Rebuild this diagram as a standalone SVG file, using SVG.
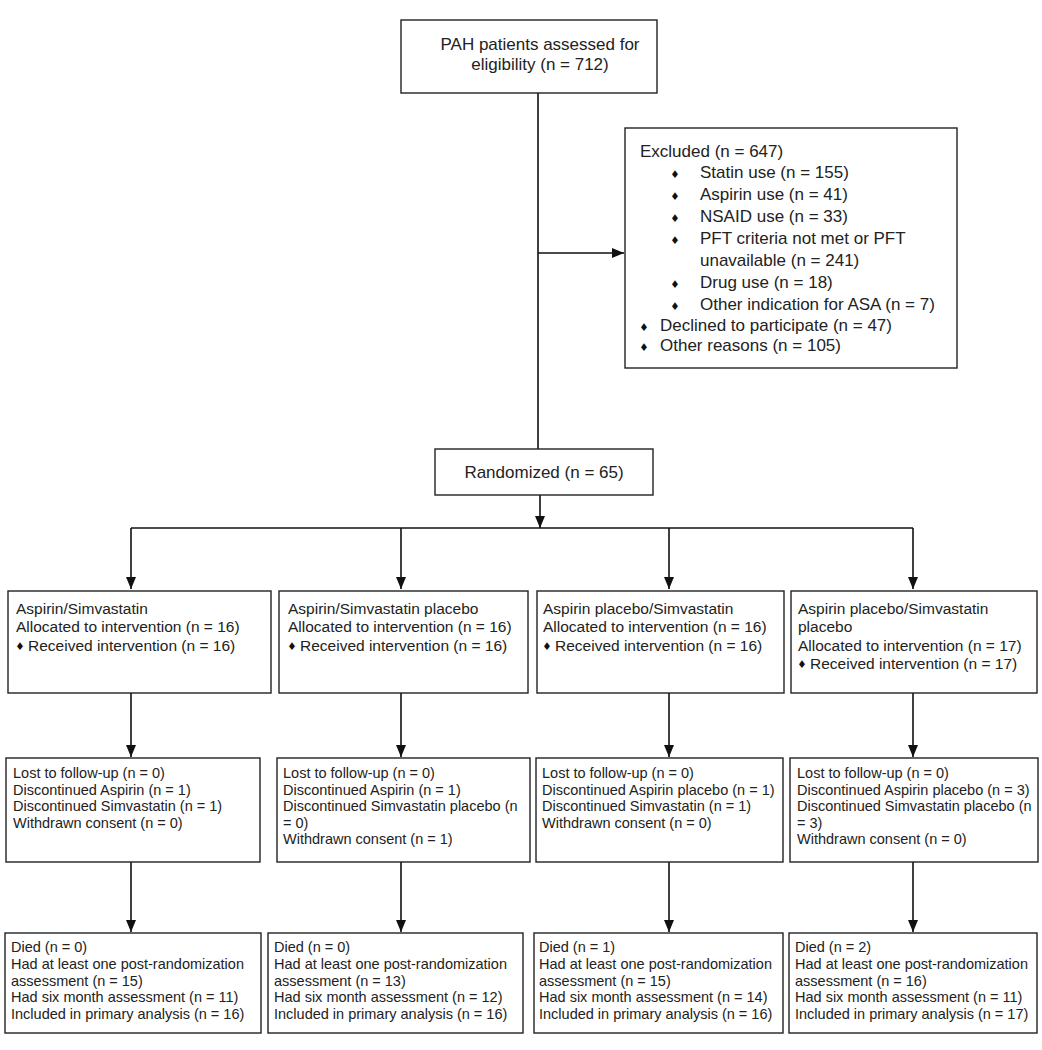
<svg xmlns="http://www.w3.org/2000/svg" width="1042" height="1050" viewBox="0 0 1042 1050">
<defs>
<style>
.box{fill:#fff;stroke:#222;stroke-width:1.4}
.ln{fill:none;stroke:#111;stroke-width:1.6}
text{font-family:"Liberation Sans",Arial,sans-serif;fill:#222}
.t17{font-size:17px}
.t155{font-size:15.5px}
.t145{font-size:14.5px}
.b{font-family:"DejaVu Sans",sans-serif;font-size:10.5px;text-anchor:middle;fill:#111}
</style>
<marker id="ah" viewBox="0 0 12 10" refX="12" refY="5" markerWidth="12" markerHeight="10" markerUnits="userSpaceOnUse" orient="auto">
<path d="M0,0 L12,5 L0,10 z" fill="#111"/>
</marker>
</defs>
<rect width="1042" height="1050" fill="#fff"/>

<g id="connectors">
<line class="ln" x1="538" y1="93" x2="538" y2="449"/>
<line class="ln" x1="538" y1="253" x2="624" y2="253" marker-end="url(#ah)"/>
<line class="ln" x1="540" y1="495" x2="540" y2="528" marker-end="url(#ah)"/>
<line class="ln" x1="131" y1="528" x2="913" y2="528"/>
<line class="ln" x1="131" y1="528" x2="131" y2="589" marker-end="url(#ah)"/>
<line class="ln" x1="401" y1="528" x2="401" y2="589" marker-end="url(#ah)"/>
<line class="ln" x1="669" y1="528" x2="669" y2="589" marker-end="url(#ah)"/>
<line class="ln" x1="913" y1="528" x2="913" y2="589" marker-end="url(#ah)"/>
<line class="ln" x1="131" y1="693" x2="131" y2="757" marker-end="url(#ah)"/>
<line class="ln" x1="401" y1="693" x2="401" y2="757" marker-end="url(#ah)"/>
<line class="ln" x1="669" y1="693" x2="669" y2="757" marker-end="url(#ah)"/>
<line class="ln" x1="913" y1="693" x2="913" y2="757" marker-end="url(#ah)"/>
<line class="ln" x1="131" y1="862" x2="131" y2="932" marker-end="url(#ah)"/>
<line class="ln" x1="401" y1="862" x2="401" y2="932" marker-end="url(#ah)"/>
<line class="ln" x1="669" y1="862" x2="669" y2="932" marker-end="url(#ah)"/>
<line class="ln" x1="913" y1="862" x2="913" y2="932" marker-end="url(#ah)"/>
</g>

<g id="assessed">
<rect class="box" x="401" y="20" width="256" height="73"/>
<text class="t17" x="540" y="50" text-anchor="middle">PAH patients assessed for</text>
<text class="t17" x="540" y="70" text-anchor="middle">eligibility (n = 712)</text>
</g>

<g id="excluded">
<rect class="box" x="625" y="128" width="332" height="240"/>
<text class="t17" x="640" y="157">Excluded (n = 647)</text>
<text class="b" x="675" y="178">♦</text><text class="t17" x="700" y="178">Statin use (n = 155)</text>
<text class="b" x="675" y="200">♦</text><text class="t17" x="700" y="200">Aspirin use (n = 41)</text>
<text class="b" x="675" y="222">♦</text><text class="t17" x="700" y="222">NSAID use (n = 33)</text>
<text class="b" x="675" y="244">♦</text><text class="t17" x="700" y="244">PFT criteria not met or PFT</text>
<text class="t17" x="700" y="266">unavailable (n = 241)</text>
<text class="b" x="675" y="288">♦</text><text class="t17" x="700" y="288">Drug use (n = 18)</text>
<text class="b" x="675" y="310">♦</text><text class="t17" x="700" y="310">Other indication for ASA (n = 7)</text>
<text class="b" x="644" y="331">♦</text><text class="t17" x="660" y="331">Declined to participate (n = 47)</text>
<text class="b" x="644" y="351">♦</text><text class="t17" x="660" y="351">Other reasons (n = 105)</text>
</g>

<g id="randomized">
<rect class="box" x="435" y="449" width="218" height="46"/>
<text class="t17" x="544" y="478" text-anchor="middle">Randomized (n = 65)</text>
</g>

<g id="alloc1">
<rect class="box" x="8" y="591" width="263" height="102"/>
<text class="t155" x="16" y="614">Aspirin/Simvastatin</text>
<text class="t155" x="16" y="632">Allocated to intervention (n = 16)</text>
<text class="b" x="20" y="650">♦</text><text class="t155" x="28" y="651">Received intervention (n = 16)</text>
</g>
<g id="alloc2">
<rect class="box" x="279" y="591" width="249" height="102"/>
<text class="t155" x="288" y="614">Aspirin/Simvastatin placebo</text>
<text class="t155" x="288" y="632">Allocated to intervention (n = 16)</text>
<text class="b" x="292" y="650">♦</text><text class="t155" x="300" y="651">Received intervention (n = 16)</text>
</g>
<g id="alloc3">
<rect class="box" x="537" y="591" width="247" height="102"/>
<text class="t155" x="543" y="614">Aspirin placebo/Simvastatin</text>
<text class="t155" x="543" y="632">Allocated to intervention (n = 16)</text>
<text class="b" x="547" y="650">♦</text><text class="t155" x="555" y="651">Received intervention (n = 16)</text>
</g>
<g id="alloc4">
<rect class="box" x="791" y="591" width="246" height="102"/>
<text class="t155" x="798" y="614">Aspirin placebo/Simvastatin</text>
<text class="t155" x="798" y="632">placebo</text>
<text class="t155" x="798" y="651">Allocated to intervention (n = 17)</text>
<text class="b" x="802" y="668">♦</text><text class="t155" x="810" y="669">Received intervention (n = 17)</text>
</g>

<g id="follow1">
<rect class="box" x="6" y="758" width="254" height="104"/>
<text class="t145" x="13" y="778">Lost to follow-up (n = 0)</text>
<text class="t145" x="13" y="794.5">Discontinued Aspirin (n = 1)</text>
<text class="t145" x="13" y="811">Discontinued Simvastatin (n = 1)</text>
<text class="t145" x="13" y="827.5">Withdrawn consent (n = 0)</text>
</g>
<g id="follow2">
<rect class="box" x="277" y="758" width="253" height="104"/>
<text class="t145" x="283" y="778">Lost to follow-up (n = 0)</text>
<text class="t145" x="283" y="794.5">Discontinued Aspirin (n = 1)</text>
<text class="t145" x="283" y="811">Discontinued Simvastatin placebo (n</text>
<text class="t145" x="283" y="827.5">= 0)</text>
<text class="t145" x="283" y="844">Withdrawn consent (n = 1)</text>
</g>
<g id="follow3">
<rect class="box" x="536" y="758" width="247" height="104"/>
<text class="t145" x="542" y="778">Lost to follow-up (n = 0)</text>
<text class="t145" x="542" y="794.5">Discontinued Aspirin placebo (n = 1)</text>
<text class="t145" x="542" y="811">Discontinued Simvastatin (n = 1)</text>
<text class="t145" x="542" y="827.5">Withdrawn consent (n = 0)</text>
</g>
<g id="follow4">
<rect class="box" x="790" y="758" width="248" height="104"/>
<text class="t145" x="797" y="778">Lost to follow-up (n = 0)</text>
<text class="t145" x="797" y="794.5">Discontinued Aspirin placebo (n = 3)</text>
<text class="t145" x="797" y="811">Discontinued Simvastatin placebo (n</text>
<text class="t145" x="797" y="827.5">= 3)</text>
<text class="t145" x="797" y="844">Withdrawn consent (n = 0)</text>
</g>

<g id="analysis1">
<rect class="box" x="5" y="933" width="256" height="100"/>
<text class="t145" x="11" y="952">Died (n = 0)</text>
<text class="t145" x="11" y="969">Had at least one post-randomization</text>
<text class="t145" x="11" y="986">assessment (n = 15)</text>
<text class="t145" x="11" y="1002">Had six month assessment (n = 11)</text>
<text class="t145" x="11" y="1019">Included in primary analysis (n = 16)</text>
</g>
<g id="analysis2">
<rect class="box" x="268" y="933" width="255" height="100"/>
<text class="t145" x="274" y="952">Died (n = 0)</text>
<text class="t145" x="274" y="969">Had at least one post-randomization</text>
<text class="t145" x="274" y="986">assessment (n = 13)</text>
<text class="t145" x="274" y="1002">Had six month assessment (n = 12)</text>
<text class="t145" x="274" y="1019">Included in primary analysis (n = 16)</text>
</g>
<g id="analysis3">
<rect class="box" x="534" y="933" width="249" height="100"/>
<text class="t145" x="539" y="952">Died (n = 1)</text>
<text class="t145" x="539" y="969">Had at least one post-randomization</text>
<text class="t145" x="539" y="986">assessment (n = 15)</text>
<text class="t145" x="539" y="1002">Had six month assessment (n = 14)</text>
<text class="t145" x="539" y="1019">Included in primary analysis (n = 16)</text>
</g>
<g id="analysis4">
<rect class="box" x="789" y="933" width="248" height="100"/>
<text class="t145" x="795" y="952">Died (n = 2)</text>
<text class="t145" x="795" y="969">Had at least one post-randomization</text>
<text class="t145" x="795" y="986">assessment (n = 16)</text>
<text class="t145" x="795" y="1002">Had six month assessment (n = 11)</text>
<text class="t145" x="795" y="1019">Included in primary analysis (n = 17)</text>
</g>
</svg>
